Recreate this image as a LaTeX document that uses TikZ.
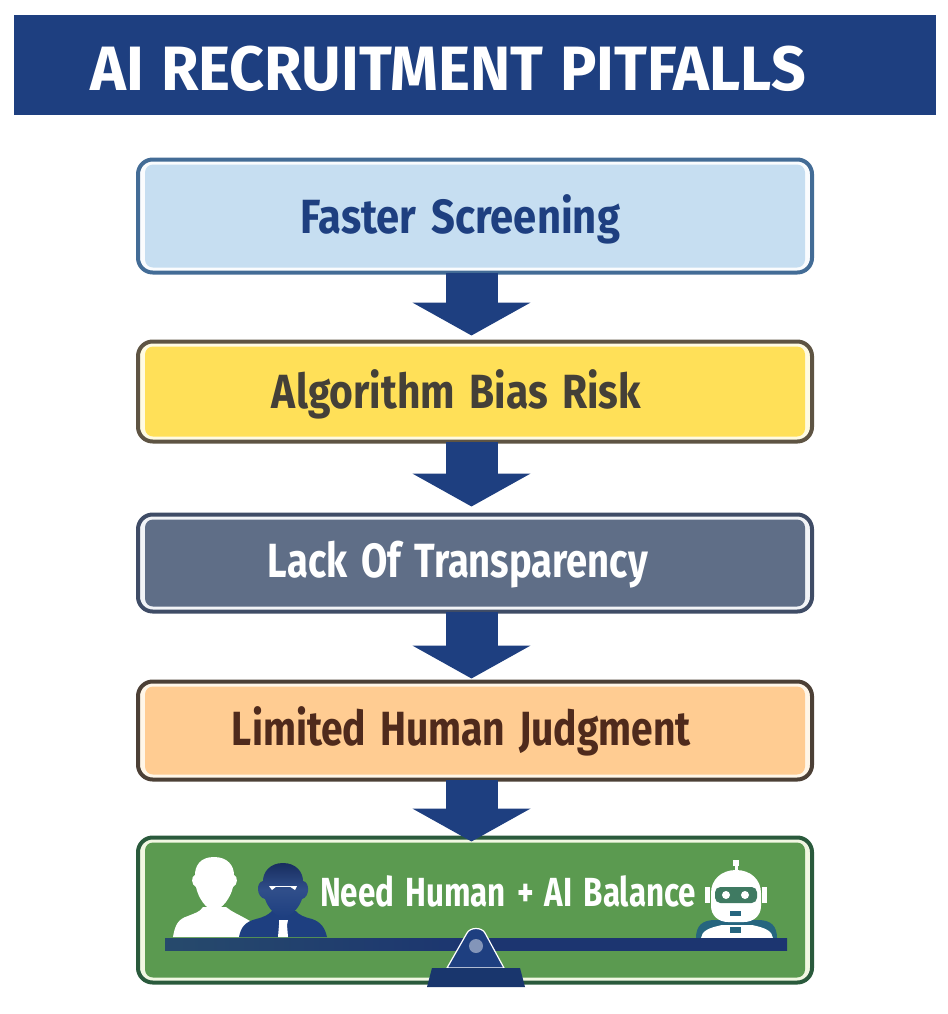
\documentclass[tikz,border=0pt]{standalone}
\usepackage{fontspec}
\setmainfont[BoldFont={Fira Sans Bold},BoldFeatures={WordSpace=1.5}]{Fira Sans}
\newfontfamily\titlefont[WordSpace=1.15]{Fira Sans Bold}
\usetikzlibrary{arrows.meta,calc}
\definecolor{navy}{HTML}{1E3F80}
\definecolor{beamnavy}{HTML}{1C3570}
\definecolor{bluefill}{HTML}{C6DEF1}
\definecolor{blueline}{HTML}{436C96}
\definecolor{bluering}{HTML}{FAFCFE}
\definecolor{yellowfill}{HTML}{FFE058}
\definecolor{yellowline}{HTML}{5E5443}
\definecolor{yellowring}{HTML}{FFFBE2}
\definecolor{slatefill}{HTML}{5F6E87}
\definecolor{slateline}{HTML}{3F4C66}
\definecolor{slatering}{HTML}{F2F4F7}
\definecolor{orangefill}{HTML}{FFCC92}
\definecolor{orangeline}{HTML}{4C4036}
\definecolor{orangering}{HTML}{FFF6E8}
\definecolor{greenfill}{HTML}{5B9A50}
\definecolor{greenline}{HTML}{2A5A3C}
\definecolor{greenring}{HTML}{F1F7E2}
\definecolor{darktext}{HTML}{444038}
\definecolor{browntext}{HTML}{4F2A1C}
\definecolor{tealbot}{HTML}{26657F}
\definecolor{visor}{HTML}{3F7A62}
\newcommand{\fitw}[2]{\resizebox{\dimexpr#1pt*3/4\relax}{\height}{#2}}
\tikzset{
  flowbox/.style n args={4}{draw=#2,line width=3pt,fill=#4,rounded corners=11pt,outer sep=0pt,
    inner sep=0pt,minimum width=505.5pt,minimum height=#1*0.75pt,
    path picture={\fill[#3,rounded corners=6pt]
      ($(path picture bounding box.north west)+(7,5)$) rectangle
      ($(path picture bounding box.south east)+(-7,-5)$);}},
  boxtext/.style={anchor=base,inner sep=0pt,outer sep=0pt,font=\bfseries},
  flowarrow/.style={draw=navy,line width=39pt,
    -{Triangle[length=24.75pt,width=87.75pt]}},
}
\begin{document}
\begin{tikzpicture}[x=0.75pt,y=-0.75pt]
\useasboundingbox (0,0) rectangle (947,1014);
\coordinate (axis) at (471.5,0);
% title
\node[fill=navy,inner sep=0pt,minimum width=691.5pt,minimum height=75pt,outer sep=0pt] (titlebar) at (475,65) {};
\node[anchor=base,inner sep=0pt,outer sep=0pt,text=white] (titletext) at (448.5,90) {\titlefont\fontsize{47}{50}\selectfont\fitw{715}{AI RECRUITMENT PITFALLS}};
% boxes
\node[flowbox={113}{blueline}{bluefill}{bluering}] (a) at (475,216) {};
\node[flowbox={100}{yellowline}{yellowfill}{yellowring}] (b) at (475,391.5) {};
\node[flowbox={97}{slateline}{slatefill}{slatering}] (c) at (475,563) {};
\node[flowbox={98}{orangeline}{orangefill}{orangering}] (d) at (475,730.5) {};
\node[flowbox={145}{greenline}{greenfill}{greenring}] (e) at (475,910) {};
% labels
\node[boxtext,text=navy] (ta) at (460.5,233.5) {\fontsize{36}{40}\selectfont\fitw{319}{Faster Screening}};
\node[boxtext,text=darktext] (tb) at (456.5,408.5) {\fontsize{36}{40}\selectfont\fitw{369}{Algorithm Bias Risk}};
\node[boxtext,text=white] (tc) at (458,577.5) {\fontsize{36}{40}\selectfont\fitw{380}{Lack Of Transparency}};
\node[boxtext,text=browntext] (td) at (461.5,745.5) {\fontsize{36}{40}\selectfont\fitw{459}{Limited Human Judgment}};
\node[boxtext,text=white] (te) at (508,906) {\fontsize{30.5}{34}\selectfont\fitw{376}{Need Human + AI Balance}};
% arrows
\draw[flowarrow,shorten >=4.5pt] (a.south -| axis) -- (b.north -| axis);
\draw[flowarrow,shorten >=6pt] (b.south -| axis) -- (c.north -| axis);
\draw[flowarrow,shorten >=2.25pt] (c.south -| axis) -- (d.north -| axis);
\draw[flowarrow,shorten >=-3pt] (d.south -| axis) -- (e.north -| axis);
% white person
\fill[white] (214,857) .. controls (200,857) and (195,866) .. (195,875)
  .. controls (191,876) and (191,885) .. (196,887)
  .. controls (198,897) and (206,910) .. (214,910)
  .. controls (222,910) and (231,897) .. (233,887)
  .. controls (238,885) and (238,876) .. (234,875)
  .. controls (234,866) and (228,857) .. (214,857) -- cycle;
\fill[white] (203,907) -- (226,907) .. controls (232,912) and (238,914) .. (250,921)
  -- (240,937) -- (173,937) .. controls (175,925) and (178,919) .. (188,916)
  .. controls (195,913) and (200,912) .. (203,907) -- cycle;
% blue person
\fill[navy] (239,937) .. controls (241,927) and (245,922) .. (256,919)
  .. controls (264,917) and (268,915) .. (272,911) -- (296,911)
  .. controls (299,915) and (304,917) .. (312,919)
  .. controls (321,922) and (325,928) .. (327,937) -- cycle;
\fill[white] (279,920) -- (288,920) -- (287,925) -- (288,937) -- (278,937) -- (279,925) -- cycle;
\shade[top color=beamnavy!85!black,bottom color=navy,middle color=navy!92!white]
  (283,863) .. controls (270,863) and (263,872) .. (263,881)
  .. controls (256,882) and (256,897) .. (265,899)
  .. controls (268,908) and (276,917) .. (283,917)
  .. controls (291,917) and (299,908) .. (302,899)
  .. controls (310,897) and (310,882) .. (303,881)
  .. controls (303,872) and (296,863) .. (283,863) -- cycle;
\fill[white] (269,886) -- (277,886) -- (272,890) -- cycle;
\fill[white] (297,886) -- (289,886) -- (295,890) -- cycle;
\draw[white,line width=0.5pt] (276,886.5) -- (290,886.5);
% robot
\fill[tealbot] (696,938) .. controls (696,926) and (702,920) .. (715,920)
  -- (758,920) .. controls (771,920) and (777,926) .. (777,938) -- cycle;
\fill[white] (701,938) .. controls (702,931) and (708,928) .. (722,925)
  -- (752,925) .. controls (766,928) and (772,931) .. (773,938) -- cycle;
\fill[tealbot] (730,927) rectangle (741,933);
\fill[white] (733,860) rectangle (739,866);
\fill[white] (734.5,865) rectangle (737.5,872);
\fill[white] (705,887) rectangle (710,903);
\fill[white] (762,887) rectangle (767,903);
\fill[white] (736,870) .. controls (721,870) and (711,880) .. (711,893)
  -- (711,906) .. controls (711,916) and (719,922) .. (728,922)
  -- (744,922) .. controls (753,922) and (761,916) .. (761,906)
  -- (761,893) .. controls (761,880) and (751,870) .. (736,870) -- cycle;
\fill[visor,rounded corners=4pt] (715,887) rectangle (757,903);
\fill[white] (726,895) circle[radius=3pt];
\fill[white] (745,895) circle[radius=3pt];
\fill[tealbot] (730,911) rectangle (741,916);
% beam
\shade[left color=beamnavy!70!visor,right color=beamnavy,middle color=beamnavy] (165,938) rectangle (787,950);
% fulcrum
\draw[fill=navy,draw=white,line width=0.9pt] (447,968) -- (467,933)
  .. controls (470,927) and (482,927) .. (485,933) -- (504,968) -- cycle;
\fill[navy!55!white] (476,946) circle[radius=5.25pt];
\fill[navy!85!black] (432,968) -- (520,968) -- (525,987) -- (427,987) -- cycle;
\end{tikzpicture}
\end{document}
